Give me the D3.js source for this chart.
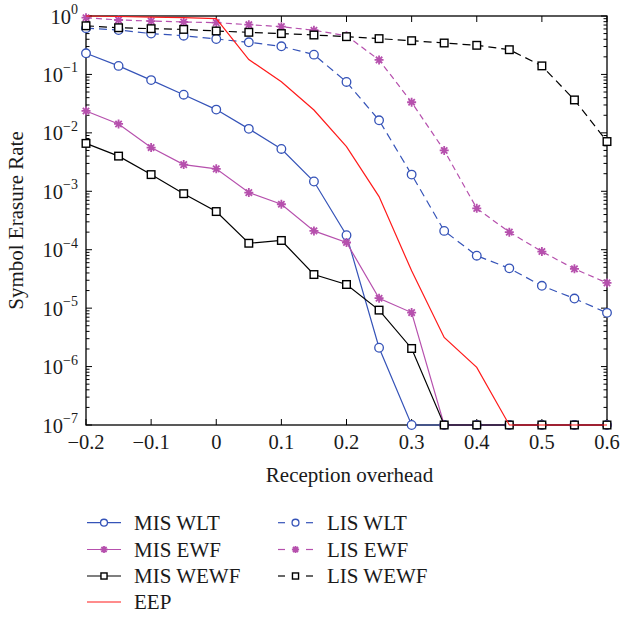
<!DOCTYPE html>
<html><head><meta charset="utf-8">
<script src="https://cdn.jsdelivr.net/npm/d3@7"></script>
<style>
body{margin:0;background:#fff}
text{font-family:"Liberation Serif","DejaVu Serif",serif;fill:#1a1a1a}
</style>
</head><body>
<svg id="chart" width="623" height="618"></svg>
<script>
// Reception overhead values (x axis)
const overhead = [-0.2,-0.15,-0.1,-0.05,0,0.05,0.1,0.15,0.2,0.25,0.3,0.35,0.4,0.45,0.5,0.55,0.6];

// Symbol erasure rate per scheme
const misWLT  = [0.23,0.14,0.08,0.045,0.025,0.0117,0.0053,0.00147,1.77e-4,2.1e-6,1e-7,1e-7,1e-7,1e-7,1e-7,1e-7,1e-7];
const misEWF  = [0.0237,0.0142,0.0056,0.00286,0.00242,9.5e-4,6.0e-4,2.1e-4,1.33e-4,1.48e-5,8.4e-6,1e-7,1e-7,1e-7,1e-7,1e-7,1e-7];
const misWEWF = [6.6e-3,4.0e-3,1.93e-3,9.1e-4,4.5e-4,1.29e-4,1.44e-4,3.76e-5,2.54e-5,9.25e-6,2.04e-6,1e-7,1e-7,1e-7,1e-7,1e-7,1e-7];
const eep     = [1.0,0.98,0.96,0.94,0.9,0.18,0.075,0.0246,0.0058,8.1e-4,4.35e-5,3.15e-6,9.7e-7,1e-7,1e-7,1e-7,1e-7];
const lisWLT  = [0.62,0.576,0.5,0.46,0.404,0.355,0.303,0.218,0.0743,0.0164,1.93e-3,2.1e-4,7.9e-5,4.8e-5,2.41e-5,1.46e-5,8.3e-6];
const lisEWF  = [0.935,0.855,0.82,0.79,0.77,0.71,0.657,0.57,0.46,0.177,0.0334,5.0e-3,5.1e-4,2.0e-4,9.3e-5,4.7e-5,2.7e-5];
const lisWEWF = [0.68,0.63,0.607,0.59,0.554,0.526,0.5,0.473,0.443,0.41,0.378,0.345,0.315,0.265,0.14,0.0366,7.1e-3];

const xTicks = [-0.2,-0.1,0,0.1,0.2,0.3,0.4,0.5,0.6];
const xTickLabels = ["\u22120.2","\u22120.1","0","0.1","0.2","0.3","0.4","0.5","0.6"];
const yExponents = [0,-1,-2,-3,-4,-5,-6,-7];

const BLUE = "#3553b8", MAG = "#b650ad", RED = "#ff1a1a", BLK = "#000";

const series = [
  {name:"MIS WLT",  values:misWLT,  color:BLUE, dash:null,  marker:"circle"},
  {name:"MIS EWF",  values:misEWF,  color:MAG,  dash:null,  marker:"star"},
  {name:"MIS WEWF", values:misWEWF, color:BLK,  dash:null,  marker:"square"},
  {name:"LIS WLT",  values:lisWLT,  color:BLUE, dash:"8,5", marker:"circle"},
  {name:"LIS EWF",  values:lisEWF,  color:MAG,  dash:"6,4", marker:"star"},
  {name:"LIS WEWF", values:lisWEWF, color:BLK,  dash:"8,5", marker:"square"},
  {name:"EEP",      values:eep,     color:RED,  dash:null,  marker:null}
];

const W = 623, H = 618;
const m = {left:86, right:16, top:16, bottom:193};
const pw = W - m.left - m.right, ph = H - m.top - m.bottom;

const svg = d3.select("#chart");
const g = svg.append("g").attr("transform", `translate(${m.left},${m.top})`);

const x = d3.scaleLinear().domain([-0.2, 0.6]).range([0, pw]);
const y = d3.scaleLog().domain([1e-7, 1]).range([ph, 0]);

// minor ticks for the log axis
const minor = [];
for (let e = -7; e < 0; e++) for (let k = 2; k <= 9; k++) minor.push(k * Math.pow(10, e));

const tickStroke = "#000";
// frame
g.append("rect").attr("width", pw).attr("height", ph)
  .attr("fill","none").attr("stroke","#000").attr("stroke-width",1.3);

// x ticks, bottom and top, pointing inward
xTicks.forEach(v => {
  g.append("line").attr("x1",x(v)).attr("x2",x(v)).attr("y1",ph).attr("y2",ph-6).attr("stroke",tickStroke);
  g.append("line").attr("x1",x(v)).attr("x2",x(v)).attr("y1",0).attr("y2",6).attr("stroke",tickStroke);
});
// y ticks, left and right
yExponents.forEach(e => {
  const yy = y(Math.pow(10,e));
  g.append("line").attr("x1",0).attr("x2",6).attr("y1",yy).attr("y2",yy).attr("stroke",tickStroke);
  g.append("line").attr("x1",pw).attr("x2",pw-6).attr("y1",yy).attr("y2",yy).attr("stroke",tickStroke);
});
minor.forEach(v => {
  const yy = y(v);
  g.append("line").attr("x1",0).attr("x2",3.5).attr("y1",yy).attr("y2",yy).attr("stroke",tickStroke);
  g.append("line").attr("x1",pw).attr("x2",pw-3.5).attr("y1",yy).attr("y2",yy).attr("stroke",tickStroke);
});

// x tick labels
xTicks.forEach((v,i) => {
  g.append("text").attr("x",x(v)).attr("y",ph+24).attr("text-anchor","middle")
    .attr("font-size",20.5).text(xTickLabels[i]);
});
// y tick labels 10^e
yExponents.forEach(e => {
  const t = g.append("text").attr("x",-8).attr("y",y(Math.pow(10,e))+7.5)
    .attr("text-anchor","end").attr("font-size",20.5);
  t.append("tspan").text("10");
  t.append("tspan").attr("dy",-9.5).attr("font-size",14).text(e === 0 ? "0" : "\u2212" + (-e));
});

// axis titles
g.append("text").attr("x",pw/2 + 3).attr("y",ph+57).attr("text-anchor","middle")
  .attr("font-size",21).text("Reception overhead");
g.append("text").attr("transform",`translate(${-63},${ph/2}) rotate(-90)`)
  .attr("text-anchor","middle").attr("font-size",21).text("Symbol Erasure Rate");

// marker drawing
function drawMarker(sel, type, color, cx, cy, scale=1) {
  if (type === "circle") {
    sel.append("circle").attr("cx",cx).attr("cy",cy).attr("r",4.3*scale)
      .attr("fill","#fff").attr("stroke",color).attr("stroke-width",1.3);
  } else if (type === "square") {
    const s = 7.6*scale;
    sel.append("rect").attr("x",cx-s/2).attr("y",cy-s/2).attr("width",s).attr("height",s)
      .attr("fill","#fff").attr("stroke",color).attr("stroke-width",1.4);
  } else if (type === "star") {
    const r = 4.5*scale;
    const p = d3.path();
    for (let a = 0; a < 4; a++) {
      const ang = a * Math.PI / 4;
      p.moveTo(cx - r*Math.cos(ang), cy - r*Math.sin(ang));
      p.lineTo(cx + r*Math.cos(ang), cy + r*Math.sin(ang));
    }
    sel.append("path").attr("d",p.toString()).attr("stroke",color).attr("stroke-width",1.8).attr("fill","none");
  }
}

const line = d3.line().x(d => x(d[0])).y(d => y(d[1]));

series.forEach(s => {
  const pts = overhead.map((o,i) => [o, s.values[i]]);
  const sg = g.append("g");
  sg.append("path").attr("d", line(pts)).attr("fill","none")
    .attr("stroke", s.color).attr("stroke-width", 1.2)
    .attr("stroke-dasharray", s.dash);
  if (s.marker) pts.forEach(p => drawMarker(sg, s.marker, s.color, x(p[0]), y(p[1])));
});

// legend
const legendCols = [
  {x0:87, x1:121, tx:134, items:[0,1,2,6]},
  {x0:278, x1:313, tx:327, items:[3,4,5]}
];
const rowY = [522.7, 549.5, 576, 602];
legendCols.forEach(col => {
  col.items.forEach((si, r) => {
    const s = series[si];
    const yy = rowY[r];
    const lg = svg.append("g");
    if (s.dash) {
      lg.append("line").attr("x1",col.x0).attr("x2",col.x0+7).attr("y1",yy).attr("y2",yy)
        .attr("stroke",s.color).attr("stroke-width",1.2);
      lg.append("line").attr("x1",col.x1-7).attr("x2",col.x1).attr("y1",yy).attr("y2",yy)
        .attr("stroke",s.color).attr("stroke-width",1.2);
    } else {
      lg.append("line").attr("x1",col.x0).attr("x2",col.x1).attr("y1",yy).attr("y2",yy)
        .attr("stroke",s.color).attr("stroke-width",1.2);
    }
    if (s.marker) drawMarker(lg, s.marker, s.color, (col.x0+col.x1)/2, yy, 0.8);
    lg.append("text").attr("x",col.tx).attr("y",yy+7).attr("font-size",21).text(s.name);
  });
});
</script>
</body></html>
